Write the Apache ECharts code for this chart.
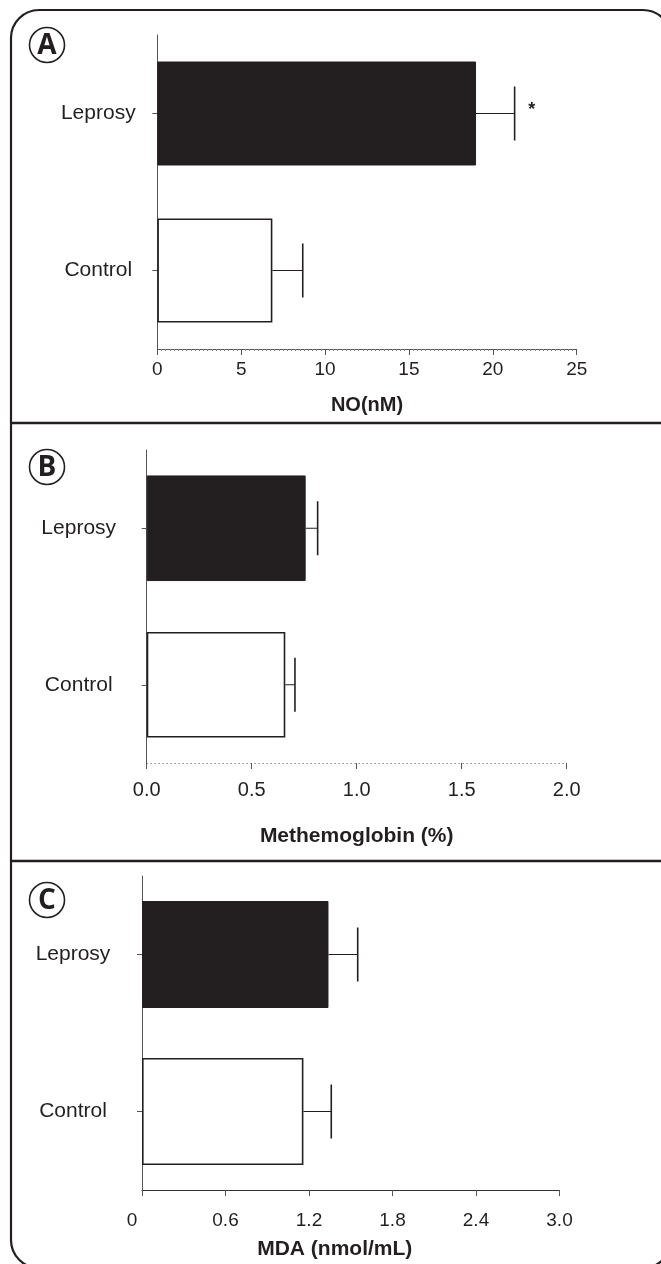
<!DOCTYPE html>
<html><head><meta charset="utf-8">
<script src="https://cdn.jsdelivr.net/npm/echarts@6/dist/echarts.min.js"></script>
<style>html,body{margin:0;padding:0;background:#fff}#c{width:661px;height:1264px}</style>
</head><body><div id="c"></div>
<script>
// ---- data ----
const categories = ['Leprosy', 'Control'];
const noMean = [19.0, 6.86];
const noUpper = [21.3, 8.67];
const noSig = ['*', ''];
const methbMean = [0.757, 0.66];
const methbUpper = [0.814, 0.706];
const methbSig = ['', ''];
const mdaMean = [1.34, 1.16];
const mdaUpper = [1.55, 1.36];
const mdaSig = ['', ''];
const noTicks = [0, 5, 10, 15, 20, 25];
const methbTicks = [0, 0.5, 1.0, 1.5, 2.0];
const mdaTicks = [0, 0.6, 1.2, 1.8, 2.4, 3.0];
const axisNames = ['NO(nM)', 'Methemoglobin (%)', 'MDA (nmol/mL)'];
const panelLetters = ['A', 'B', 'C'];

// ---- style / layout ----
const ink = '#231f20';
const font = 'Liberation Sans, Arial, sans-serif';
const panels = [
  { mean: noMean, upper: noUpper, sig: noSig, ticks: noTicks,
    grid: { left: 157.3, top: 35, width: 419.4, height: 314 }, barWidth: 104,
    catMargin: 9, labMargin: 11, nameGap: 46, nameShift: 0, nameSize: 20, tickSize: 19,
    fmt: v => String(Math.round(v)),
    axisLine: { color: '#555', width: 1, type: 'solid' }, minor: true, zeroShift: 0 },
  { mean: methbMean, upper: methbUpper, sig: methbSig, ticks: methbTicks,
    grid: { left: 146.7, top: 450, width: 420, height: 313 }, barWidth: 105.6,
    catMargin: 18, labMargin: 17, nameGap: 63, nameShift: 0, nameSize: 21, tickSize: 20,
    fmt: v => v.toFixed(1),
    axisLine: { color: '#999', width: 1, type: [1, 3] }, minor: false, zeroShift: 0 },
  { mean: mdaMean, upper: mdaUpper, sig: mdaSig, ticks: mdaTicks,
    grid: { left: 142, top: 876, width: 417.5, height: 314 }, barWidth: 107,
    catMargin: 19, labMargin: 21, nameGap: 49, nameShift: 32, nameSize: 21, tickSize: 19,
    fmt: v => (v === 0 ? '0' : v.toFixed(1)),
    axisLine: { color: '#333', width: 1, type: 'solid' }, minor: false, zeroShift: 20 }
];

const grids = [], xAxes = [], yAxes = [], series = [];
panels.forEach((p, k) => {
  grids.push(Object.assign({ outerBoundsMode: 'none', containLabel: false }, p.grid));
  const t = p.ticks;
  xAxes.push({
    gridIndex: k, type: 'value', min: t[0], max: t[t.length - 1], interval: t[1] - t[0],
    axisLine: { show: true, onZero: false, lineStyle: p.axisLine },
    axisTick: { show: true, length: 6, lineStyle: { color: '#555', width: 1 } },
    minorTick: { show: p.minor, splitNumber: 20, length: 2, lineStyle: { color: '#888' } },
    splitLine: { show: false },
    axisLabel: {
      margin: p.labMargin, color: ink, fontSize: p.tickSize, fontFamily: font,
      formatter: v => (v === 0 && p.zeroShift ? '{z|' + p.fmt(v) + '}' : p.fmt(v)),
      rich: { z: { padding: [0, p.zeroShift, 0, 0], fontSize: p.tickSize, fontFamily: font, color: ink } }
    },
    name: axisNames[k], nameLocation: 'middle', nameGap: p.nameGap,
    nameTextStyle: { fontWeight: 'bold', fontSize: p.nameSize, color: ink, fontFamily: font,
      padding: [0, p.nameShift, 0, 0] }
  });
  yAxes.push({
    gridIndex: k, type: 'category', data: categories, inverse: true,
    axisLine: { show: true, lineStyle: { color: '#555', width: 1 } },
    axisTick: { show: true, alignWithLabel: true, length: 5, lineStyle: { color: '#555' } },
    splitLine: { show: false },
    axisLabel: {
      margin: p.catMargin,
      formatter: v => '{c|' + v + '}',
      rich: { c: { width: 100, align: 'center', fontSize: 21, fontFamily: font, color: ink } }
    }
  });
  series.push({
    type: 'bar', xAxisIndex: k, yAxisIndex: k, barWidth: p.barWidth, silent: true,
    data: categories.map((c, i) => ({
      value: p.mean[i],
      itemStyle: i === 0
        ? { color: ink, borderColor: ink, borderWidth: 1 }
        : { color: '#fff', borderColor: ink, borderWidth: 1.6 }
    }))
  });
  series.push({
    type: 'custom', xAxisIndex: k, yAxisIndex: k, silent: true, clip: false, z: 5,
    encode: { x: [1, 2], y: 0 },
    data: categories.map((c, i) => [i, p.mean[i], p.upper[i], p.sig[i]]),
    renderItem: (params, api) => {
      const i = params.dataIndex;
      const cat = api.value(0), m = api.value(1), u = api.value(2);
      const a = api.coord([m, cat]), b = api.coord([u, cat]);
      const children = [
        { type: 'line', shape: { x1: a[0], y1: a[1], x2: b[0], y2: b[1] }, style: { stroke: ink, lineWidth: 1 } },
        { type: 'line', shape: { x1: b[0], y1: b[1] - 27, x2: b[0], y2: b[1] + 27 }, style: { stroke: ink, lineWidth: 1.6 } }
      ];
      const s = p.sig[i];
      if (s) children.push({ type: 'text', x: b[0] + 17, y: b[1] - 3,
        style: { text: s, fill: ink, font: 'bold 18px ' + font, align: 'center', verticalAlign: 'middle' } });
      return { type: 'group', children };
    }
  });
});

const letterY = [45, 467, 900];
const graphics = [
  { type: 'rect', shape: { x: 11, y: 10, width: 660, height: 1258, r: 28 },
    style: { fill: 'none', stroke: ink, lineWidth: 2.2 }, silent: true },
  { type: 'line', shape: { x1: 11, y1: 423, x2: 661, y2: 423 }, style: { stroke: ink, lineWidth: 2.4 }, silent: true },
  { type: 'line', shape: { x1: 11, y1: 861, x2: 661, y2: 861 }, style: { stroke: ink, lineWidth: 2.4 }, silent: true }
];
panelLetters.forEach((L, k) => {
  graphics.push({ type: 'circle', shape: { cx: 47, cy: letterY[k], r: 17.5 },
    style: { fill: '#fff', stroke: ink, lineWidth: 1.6 }, silent: true });
  graphics.push({ type: 'text', x: 47, y: letterY[k] + 1,
    style: { text: L, fill: ink, font: 'bold 28px "Open Sans", sans-serif', align: 'center', verticalAlign: 'middle' }, silent: true });
});

const chart = echarts.init(document.getElementById('c'), null, { renderer: 'canvas' });
chart.setOption({
  animation: false,
  backgroundColor: '#fff',
  grid: grids, xAxis: xAxes, yAxis: yAxes, series: series,
  graphic: graphics
});
</script></body></html>
